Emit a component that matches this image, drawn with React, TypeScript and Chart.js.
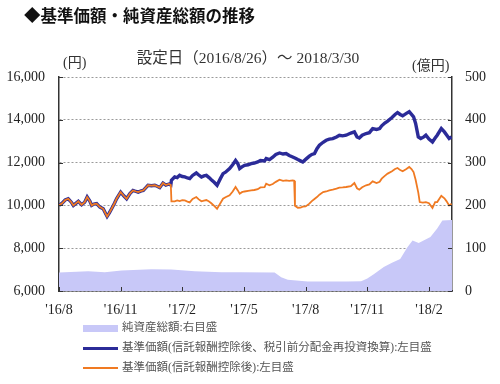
import React, { useEffect, useRef } from 'react';
import { Chart, registerables } from 'chart.js';

Chart.register(...registerables);

// x positions are months elapsed since the start of Aug 2016
const xTickPositions = [0, 3, 6, 9, 12, 15, 18];
const xTickLabels = ["'16/8", "'16/11", "'17/2", "'17/5", "'17/8", "'17/11", "'18/2"];
const leftTicks = [6000, 8000, 10000, 12000, 14000, 16000];
const rightTicks = [0, 100, 200, 300, 400, 500];

// common part of both NAV lines (before the first distribution)
const sharedMonths = [0, 0.15, 0.3, 0.45, 0.6, 0.7, 0.85, 0.94, 1.1, 1.25, 1.37, 1.5, 1.59, 1.7, 1.83, 1.99, 2.15, 2.34, 2.45, 2.56, 2.7, 2.8, 3.0, 3.15, 3.29, 3.45, 3.6, 3.75, 3.85, 4.0, 4.1, 4.25, 4.33, 4.5, 4.66, 4.8, 4.9, 5.06, 5.2, 5.35, 5.44];
const sharedValues = [10000, 10100, 10250, 10310, 10150, 10000, 10120, 10190, 10030, 10150, 10390, 10200, 10000, 10060, 10080, 9920, 9840, 9485, 9650, 9845, 10100, 10310, 10620, 10450, 10310, 10550, 10700, 10650, 10620, 10680, 10700, 10850, 10940, 10920, 10940, 10880, 10830, 11045, 10950, 11000, 10950];

// reinvested NAV after the first distribution
const reinvMonths = [5.47, 5.63, 5.75, 5.87, 6.0, 6.12, 6.25, 6.36, 6.5, 6.68, 6.8, 6.93, 7.05, 7.17, 7.3, 7.41, 7.55, 7.69, 7.85, 7.98, 8.1, 8.3, 8.45, 8.59, 8.7, 8.79, 8.9, 9.03, 9.2, 9.35, 9.5, 9.67, 9.8, 10.0, 10.08, 10.24, 10.4, 10.55, 10.73, 10.9, 11.05, 11.2, 11.37, 11.5, 11.62, 11.75, 11.86, 12.0, 12.18, 12.3, 12.43, 12.55, 12.67, 12.85, 13.0, 13.15, 13.32, 13.5, 13.64, 13.8, 13.97, 14.2, 14.37, 14.5, 14.61, 14.75, 14.94, 15.1, 15.26, 15.45, 15.6, 15.7, 15.85, 15.99, 16.2, 16.35, 16.47, 16.6, 16.72, 16.9, 17.04, 17.15, 17.25, 17.35, 17.48, 17.6, 17.75, 17.85, 18.0, 18.17, 18.3, 18.4, 18.6, 18.75, 18.85, 18.98, 19.1];
const reinvValues = [11170, 11330, 11300, 11405, 11350, 11330, 11280, 11250, 11400, 11515, 11420, 11330, 11380, 11405, 11300, 11200, 11080, 10940, 11250, 11485, 11550, 11720, 11900, 12100, 11950, 11720, 11800, 11875, 11900, 11950, 11980, 12030, 12100, 12080, 12190, 12140, 12250, 12380, 12450, 12400, 12420, 12330, 12260, 12200, 12140, 12080, 12030, 12150, 12300, 12380, 12420, 12650, 12810, 12950, 13045, 13100, 13120, 13200, 13280, 13250, 13280, 13380, 13435, 13200, 13150, 13280, 13360, 13400, 13590, 13550, 13590, 13720, 13850, 13940, 14110, 14250, 14340, 14250, 14185, 14300, 14375, 14250, 14140, 13830, 13200, 13125, 13200, 13280, 13100, 12965, 13150, 13280, 13590, 13435, 13300, 13125, 13200];

// NAV after the first distribution
const navMonths = [5.47, 5.63, 5.75, 5.87, 6.0, 6.12, 6.25, 6.36, 6.5, 6.68, 6.8, 6.93, 7.05, 7.17, 7.3, 7.41, 7.55, 7.69, 7.85, 7.98, 8.1, 8.3, 8.45, 8.59, 8.7, 8.79, 8.9, 9.03, 9.2, 9.35, 9.5, 9.67, 9.8, 10.0, 10.08, 10.24, 10.4, 10.55, 10.73, 10.9, 11.05, 11.2, 11.37, 11.44, 11.48, 11.62, 11.75, 11.86, 12.0, 12.18, 12.3, 12.43, 12.55, 12.67, 12.85, 13.0, 13.15, 13.32, 13.5, 13.64, 13.8, 13.97, 14.2, 14.37, 14.5, 14.61, 14.75, 14.94, 15.1, 15.26, 15.45, 15.6, 15.7, 15.85, 15.99, 16.2, 16.35, 16.47, 16.6, 16.72, 16.9, 17.04, 17.15, 17.25, 17.35, 17.48, 17.55, 17.7, 17.85, 18.0, 18.17, 18.3, 18.4, 18.6, 18.75, 18.85, 18.98, 19.1];
const navValues = [10190, 10190, 10230, 10200, 10240, 10235, 10180, 10140, 10300, 10390, 10280, 10190, 10220, 10250, 10180, 10100, 9980, 9845, 10100, 10310, 10380, 10470, 10650, 10860, 10700, 10550, 10620, 10650, 10680, 10700, 10720, 10760, 10840, 10850, 11015, 10940, 11000, 11100, 11200, 11150, 11170, 11150, 11170, 11150, 9980, 9890, 9900, 9940, 9950, 10080, 10200, 10300, 10390, 10500, 10620, 10650, 10700, 10735, 10780, 10830, 10840, 10860, 10900, 11045, 10800, 10735, 10850, 10940, 10980, 11125, 11045, 11100, 11250, 11380, 11485, 11600, 11700, 11750, 11650, 11595, 11700, 11795, 11700, 11560, 11200, 10600, 10155, 10130, 10155, 10100, 9880, 10150, 10155, 10450, 10330, 10200, 10000, 10080];

// net assets (100 million yen), right axis
const assetMonths = [0, 1.42, 2.23, 3.04, 4.5, 5.47, 6.6, 7.9, 8.87, 10.49, 10.81, 11.13, 12.1, 14.0, 14.7, 15.0, 15.33, 15.8, 16.2, 16.6, 16.95, 17.2, 17.5, 18.07, 18.4, 18.65, 19.12];
const assetValues = [43, 46, 44, 48, 51, 50, 46, 44, 44, 43, 32, 26, 22, 22, 23, 29, 40, 56, 66, 75, 102, 118, 112, 126, 146, 165, 166];

const toPoints = (xs: number[], ys: number[]) => xs.map((x, i) => ({ x, y: ys[i] }));

const AREA_COLOR = '#c8c8f8';
const BLUE = '#2b2b98';
const ORANGE = '#f07a22';
const SERIF = "'Liberation Serif', 'Noto Sans CJK JP', serif";

const innerTicks = {
  id: 'innerTicks',
  afterDatasetsDraw(chart: any) {
    const { ctx, chartArea: a, scales } = chart;
    ctx.save();
    ctx.strokeStyle = '#333';
    ctx.lineWidth = 1;
    ctx.beginPath();
    for (const v of xTickPositions) {
      const x = Math.round(scales.x.getPixelForValue(v)) + 0.5;
      ctx.moveTo(x, a.bottom);
      ctx.lineTo(x, a.bottom - 4);
    }
    for (const v of leftTicks) {
      const y = Math.round(scales.y.getPixelForValue(v)) + 0.5;
      ctx.moveTo(a.left, y);
      ctx.lineTo(a.left + 4, y);
    }
    for (const v of rightTicks) {
      const y = Math.round(scales.y1.getPixelForValue(v)) + 0.5;
      ctx.moveTo(a.right, y);
      ctx.lineTo(a.right - 4, y);
    }
    ctx.stroke();
    ctx.restore();
  },
};

export default function App() {
  const ref = useRef<HTMLCanvasElement>(null);

  useEffect(() => {
    if (!ref.current) return;
    const chart = new Chart(ref.current, {
      type: 'line',
      data: {
        datasets: [
          {
            label: '基準価額(信託報酬控除後):左目盛',
            data: toPoints(sharedMonths.concat(navMonths), sharedValues.concat(navValues)),
            borderColor: ORANGE,
            borderWidth: 1.8,
            pointRadius: 0,
            tension: 0,
            yAxisID: 'y',
            order: 1,
          },
          {
            label: '基準価額(信託報酬控除後、税引前分配金再投資換算):左目盛',
            data: toPoints(sharedMonths.concat(reinvMonths), sharedValues.concat(reinvValues)),
            borderColor: BLUE,
            borderWidth: 3.4,
            pointRadius: 0,
            tension: 0,
            yAxisID: 'y',
            order: 2,
          },
          {
            label: '純資産総額:右目盛',
            data: toPoints(assetMonths, assetValues),
            borderWidth: 0,
            borderColor: AREA_COLOR,
            backgroundColor: AREA_COLOR,
            fill: 'origin',
            pointRadius: 0,
            tension: 0,
            yAxisID: 'y1',
            order: 3,
          },
        ],
      },
      options: {
        responsive: false,
        animation: false,
        layout: { padding: { top: 77, bottom: 69, left: 0, right: 0 } },
        plugins: { legend: { display: false }, tooltip: { enabled: false } },
        scales: {
          x: {
            type: 'linear',
            min: 0,
            max: 19.12,
            afterBuildTicks: (s: any) => {
              s.ticks = xTickPositions.map((v) => ({ value: v }));
            },
            afterFit: (s: any) => {
              s.height = 24;
            },
            ticks: {
              callback: (_v: any, i: number) => xTickLabels[i],
              font: { family: SERIF, size: 14 },
              color: '#222',
              padding: 11,
              maxRotation: 0,
              autoSkip: false,
            },
            grid: { display: false, drawTicks: false },
            border: { color: '#333', width: 1.5 },
          },
          y: {
            type: 'linear',
            position: 'left',
            min: 6000,
            max: 16000,
            afterBuildTicks: (s: any) => {
              s.ticks = leftTicks.map((v) => ({ value: v }));
            },
            afterFit: (s: any) => {
              s.width = 59;
            },
            ticks: {
              callback: (v: any) => Number(v).toLocaleString('en-US'),
              font: { family: SERIF, size: 14 },
              color: '#222',
              padding: 14,
            },
            grid: { color: '#9a9a9a', lineWidth: 1, drawTicks: false },
            border: { color: '#333', width: 1.5, dash: [2, 2] },
          },
          y1: {
            type: 'linear',
            position: 'right',
            min: 0,
            max: 500,
            afterBuildTicks: (s: any) => {
              s.ticks = rightTicks.map((v) => ({ value: v }));
            },
            afterFit: (s: any) => {
              s.width = 48;
            },
            ticks: {
              font: { family: SERIF, size: 14 },
              color: '#222',
              padding: 13,
            },
            grid: { display: false, drawTicks: false },
            border: { color: '#333', width: 1.5 },
          },
        },
      },
      plugins: [innerTicks],
    });
    return () => chart.destroy();
  }, []);

  const abs = (left: number, cy: number, size: number): React.CSSProperties => ({
    position: 'absolute',
    left,
    top: cy - size / 2,
    fontSize: size,
    lineHeight: `${size}px`,
    whiteSpace: 'nowrap',
    fontFamily: SERIF,
  });

  return (
    <div style={{ position: 'absolute', left: 0, top: 0, width: 500, height: 384, background: '#fff' }}>
      <canvas ref={ref} width={500} height={384} style={{ display: 'block', position: 'absolute', left: 0, top: 0 }} />
      <div style={{ ...abs(24, 15, 16.5), fontFamily: "'Noto Sans CJK JP', sans-serif", fontWeight: 700, color: '#111' }}>
        ◆基準価額・純資産総額の推移
      </div>
      <div style={{ ...abs(0, 58, 15.5), width: 496, textAlign: 'center', color: '#333' }}>
        設定日（2016/8/26）～ 2018/3/30
      </div>
      <div style={{ ...abs(63, 63, 14), color: '#333' }}>(円)</div>
      <div style={{ ...abs(412, 66, 14), color: '#333' }}>(億円)</div>

      <div style={{ position: 'absolute', left: 83, top: 324.5, width: 35, height: 7, background: AREA_COLOR }} />
      <div style={{ ...abs(122, 327.5, 11.5), color: '#555' }}>純資産総額:右目盛</div>
      <div style={{ position: 'absolute', left: 83, top: 346.5, width: 35, height: 3, background: BLUE }} />
      <div style={{ ...abs(122, 348, 11.5), color: '#555' }}>基準価額(信託報酬控除後、税引前分配金再投資換算):左目盛</div>
      <div style={{ position: 'absolute', left: 83, top: 367, width: 35, height: 2, background: ORANGE }} />
      <div style={{ ...abs(122, 368, 11.5), color: '#555' }}>基準価額(信託報酬控除後):左目盛</div>
    </div>
  );
}
